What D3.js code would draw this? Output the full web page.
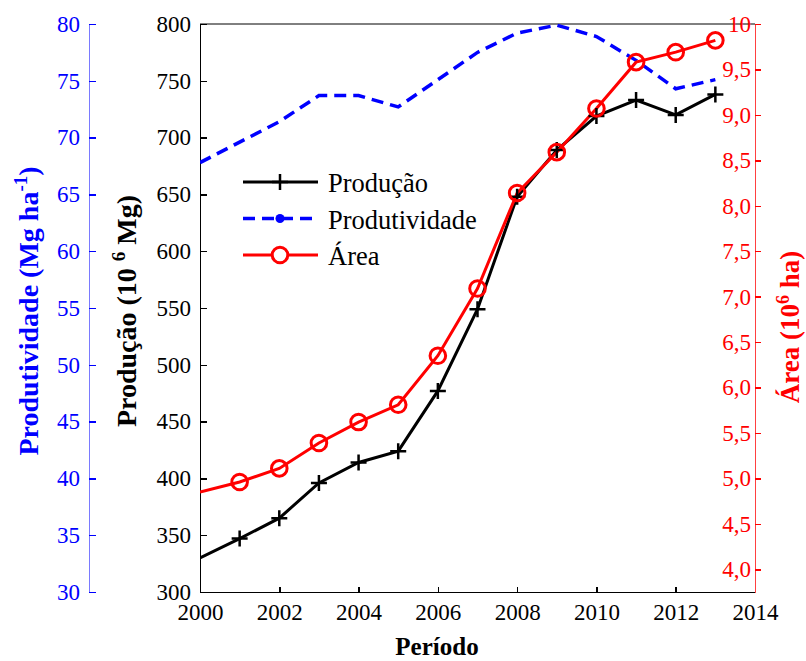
<!DOCTYPE html>
<html lang="pt">
<head>
<meta charset="utf-8">
<title>Produção, produtividade e área</title>
<script src="https://cdn.jsdelivr.net/npm/d3@7/dist/d3.min.js"></script>
<style>
  body { margin: 0; background: #fff; }
  svg text { font-family: "Liberation Serif", Tinos, "Times New Roman", Times, serif; }
  .axis path, .axis line { shape-rendering: crispEdges; }
</style>
</head>
<body>
<div id="chart"></div>
<script>
var anos = [2000, 2001, 2002, 2003, 2004, 2005, 2006, 2007, 2008, 2009, 2010, 2011, 2012, 2013];
// produção (10^6 Mg)
var producao = [330, 347, 365, 396, 414, 424, 477, 549, 648, 689, 719, 733, 720, 738];
// produtividade (Mg/ha)
var produtividade = [67.8, 69.6, 71.4, 73.7, 73.7, 72.7, 75.1, 77.5, 79.2, 79.9, 78.9, 76.8, 74.3, 75.1];
// área (10^6 ha)
var area = [4.85, 4.96, 5.11, 5.39, 5.62, 5.81, 6.35, 7.09, 8.14, 8.59, 9.07, 9.58, 9.69, 9.82];

var xTicks = [2000, 2002, 2004, 2006, 2008, 2010, 2012, 2014];
var prodTicks = [300, 350, 400, 450, 500, 550, 600, 650, 700, 750, 800];
var produtTicks = [30, 35, 40, 45, 50, 55, 60, 65, 70, 75, 80];
var areaTicks = [4.0, 4.5, 5.0, 5.5, 6.0, 6.5, 7.0, 7.5, 8.0, 8.5, 9.0, 9.5, 10];

var width = 806, height = 661;
var pLeft = 200, pRight = 755, pTop = 24, pBottom = 592;
var blueAxisX = 89;

var svg = d3.select("#chart").append("svg")
    .attr("width", width)
    .attr("height", height);

var x = d3.scaleLinear().domain([2000, 2014]).range([pLeft, pRight]);
var yProd = d3.scaleLinear().domain([300, 800]).range([pBottom, pTop]);
var yProdut = d3.scaleLinear().domain([30, 80]).range([pBottom, pTop]);
var yArea = d3.scaleLinear().domain([3.75, 10]).range([pBottom, pTop]);

svg.append("defs").append("clipPath").attr("id", "plot")
  .append("rect").attr("x", pLeft).attr("y", pTop - 2)
    .attr("width", pRight - pLeft).attr("height", pBottom - pTop + 2);

// top border
svg.append("line")
    .attr("x1", pLeft).attr("x2", pRight).attr("y1", pTop).attr("y2", pTop)
    .attr("stroke", "#000").attr("stroke-width", 1);

// x axis
var xAxis = svg.append("g").attr("class", "axis")
    .attr("transform", "translate(0," + pBottom + ")")
    .call(d3.axisBottom(x).tickValues(xTicks).tickFormat(d3.format("d")).tickSizeInner(-5).tickSizeOuter(0).tickPadding(12));
xAxis.select(".domain").attr("stroke", "#000").attr("stroke-width", 1.5);
xAxis.selectAll("line").attr("stroke", "#000").attr("stroke-width", 1.5);
xAxis.selectAll("text").attr("font-size", 23).attr("fill", "#000");

// produção axis (middle)
var aProd = svg.append("g").attr("class", "axis")
    .attr("transform", "translate(" + pLeft + ",0)")
    .call(d3.axisLeft(yProd).tickValues(prodTicks).tickSizeInner(-7).tickSizeOuter(0).tickPadding(9));
aProd.select(".domain").attr("stroke", "#000").attr("stroke-width", 1.5);
aProd.selectAll("line").attr("stroke", "#000").attr("stroke-width", 1.5);
aProd.selectAll("text").attr("font-size", 23).attr("fill", "#000");

// produtividade axis (far left, blue)
var aProdut = svg.append("g").attr("class", "axis")
    .attr("transform", "translate(" + blueAxisX + ",0)")
    .call(d3.axisLeft(yProdut).tickValues(produtTicks).tickSizeInner(-7).tickSizeOuter(0).tickPadding(9));
aProdut.select(".domain").attr("stroke", "#7a7aff").attr("stroke-width", 1.5);
aProdut.selectAll("line").attr("stroke", "#0000ff").attr("stroke-width", 1.5);
aProdut.selectAll("text").attr("font-size", 23).attr("fill", "#0000ff");

// área axis (right, red), labels inside the plot
var aArea = svg.append("g").attr("class", "axis")
    .attr("transform", "translate(" + pRight + ",0)")
    .call(d3.axisRight(yArea).tickValues(areaTicks)
      .tickFormat(function(d) { return d === 10 ? "10" : d3.format(".1f")(d).replace(".", ","); })
      .tickSizeInner(6).tickSizeOuter(0).tickPadding(0));
aArea.select(".domain").attr("stroke", "#ff4040").attr("stroke-width", 1.2);
aArea.selectAll("line").attr("stroke", "#ff0000").attr("stroke-width", 1.5);
aArea.selectAll("text").attr("font-size", 23).attr("fill", "#ff0000")
    .attr("text-anchor", "end").attr("x", -4);

// lines
var plot = svg.append("g").attr("clip-path", "url(#plot)");

var lineProdut = d3.line().x(function(d, i) { return x(anos[i]); }).y(function(d) { return yProdut(d); });
var lineProd = d3.line().x(function(d, i) { return x(anos[i]); }).y(function(d) { return yProd(d); });
var lineArea = d3.line().x(function(d, i) { return x(anos[i]); }).y(function(d) { return yArea(d); });

plot.append("path").datum(produtividade)
    .attr("d", lineProdut)
    .attr("fill", "none").attr("stroke", "#0000ff")
    .attr("stroke-width", 3.5).attr("stroke-dasharray", "12,7");

plot.append("path").datum(producao)
    .attr("d", lineProd)
    .attr("fill", "none").attr("stroke", "#000").attr("stroke-width", 3);

// no marker on the first year (as in the original)
svg.append("g").selectAll("path.mk")
    .data(producao.slice(1))
  .enter().append("path")
    .attr("class", "mk")
    .attr("d", function(d, i) {
      var cx = x(anos[i + 1]), cy = yProd(d);
      return "M" + (cx - 8) + "," + cy + "H" + (cx + 8) + "M" + cx + "," + (cy - 8) + "V" + (cy + 8);
    })
    .attr("stroke", "#000").attr("stroke-width", 2.5);

plot.append("path").datum(area)
    .attr("d", lineArea)
    .attr("fill", "none").attr("stroke", "#ff0000").attr("stroke-width", 3);

svg.append("g").selectAll("circle")
    .data(area.slice(1))
  .enter().append("circle")
    .attr("cx", function(d, i) { return x(anos[i + 1]); })
    .attr("cy", function(d) { return yArea(d); })
    .attr("r", 7.8)
    .attr("fill", "none").attr("stroke", "#ff0000").attr("stroke-width", 3);

// legend
var legend = [
  { nome: "Produção", cor: "#000", dash: null, mk: "plus" },
  { nome: "Produtividade", cor: "#0000ff", dash: "12,7", mk: "dot" },
  { nome: "Área", cor: "#ff0000", dash: null, mk: "circle" }
];
var lg = svg.append("g");
legend.forEach(function(l, i) {
  var y = 182 + i * 36.5, x1 = 243, x2 = 318, cx = 280;
  lg.append("line").attr("x1", x1).attr("x2", x2).attr("y1", y).attr("y2", y)
    .attr("stroke", l.cor).attr("stroke-width", l.dash ? 3.5 : 3)
    .attr("stroke-dasharray", l.dash);
  if (l.mk === "plus") {
    lg.append("path").attr("d", "M" + (cx - 8) + "," + y + "H" + (cx + 8) + "M" + cx + "," + (y - 8) + "V" + (y + 8))
      .attr("stroke", l.cor).attr("stroke-width", 2.5);
  } else if (l.mk === "dot") {
    lg.append("circle").attr("cx", cx).attr("cy", y).attr("r", 4.5).attr("fill", l.cor);
  } else {
    lg.append("circle").attr("cx", cx).attr("cy", y).attr("r", 7.8)
      .attr("fill", "#fff").attr("stroke", l.cor).attr("stroke-width", 3);
  }
  lg.append("text").attr("x", 328).attr("y", y + 10)
    .attr("font-size", 26.5).attr("fill", "#000").text(l.nome);
});

// axis titles
svg.append("text")
    .attr("x", 437).attr("y", 655)
    .attr("text-anchor", "middle").attr("font-size", 25).attr("font-weight", "bold")
    .text("Período");

var tProd = svg.append("text")
    .attr("transform", "translate(136,311) rotate(-90)")
    .attr("text-anchor", "middle").attr("font-size", 28).attr("font-weight", "bold").attr("fill", "#000");
tProd.append("tspan").text("Produção (10 ");
tProd.append("tspan").attr("dy", -11).attr("font-size", 19).text("6");
tProd.append("tspan").attr("dy", 11).text(" Mg)");

var tProdut = svg.append("text")
    .attr("transform", "translate(38,311) rotate(-90)")
    .attr("text-anchor", "middle").attr("font-size", 28).attr("font-weight", "bold").attr("fill", "#0000ff");
tProdut.append("tspan").text("Produtividade (Mg ha");
tProdut.append("tspan").attr("dy", -11).attr("font-size", 19).text("-1");
tProdut.append("tspan").attr("dy", 11).text(")");

var tArea = svg.append("text")
    .attr("transform", "translate(799,327) rotate(-90)")
    .attr("text-anchor", "middle").attr("font-size", 27).attr("font-weight", "bold").attr("fill", "#ff0000");
tArea.append("tspan").text("Área (10");
tArea.append("tspan").attr("dy", -10).attr("font-size", 18).text("6");
tArea.append("tspan").attr("dy", 10).text(" ha)");
</script>
</body>
</html>
